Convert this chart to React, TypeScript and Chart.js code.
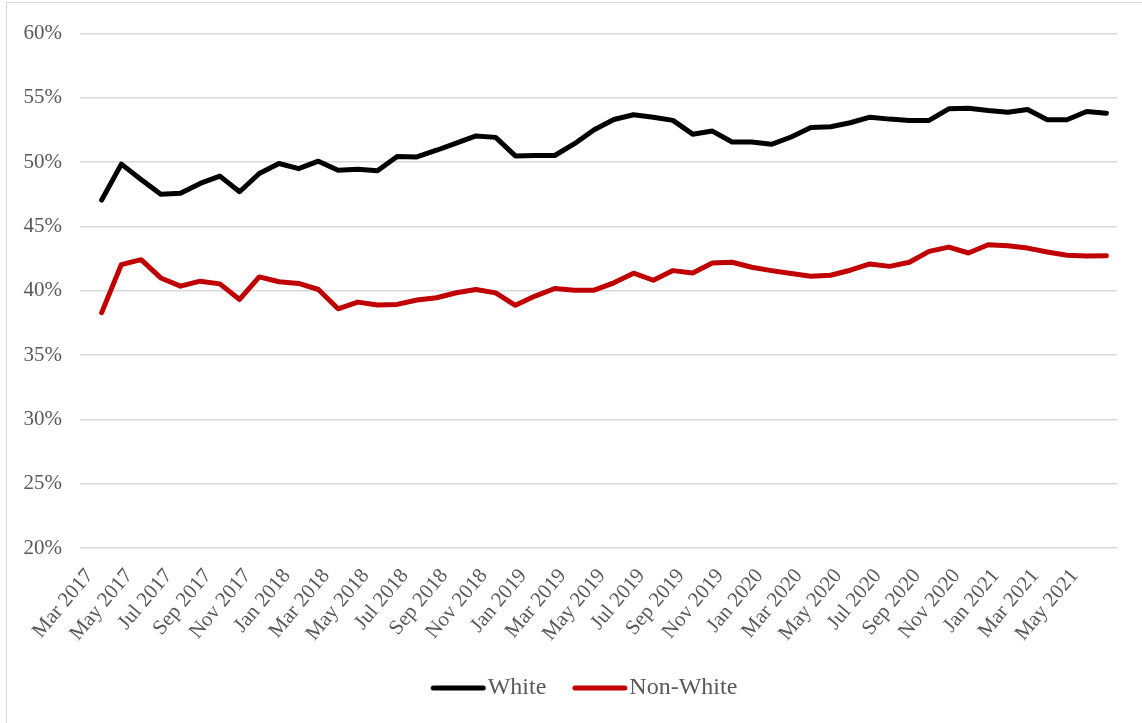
import React, { useEffect, useRef } from "react";
import { Chart, registerables } from "chart.js";

Chart.register(...registerables);

const months: string[] = [
  "Mar 2017", "Apr 2017", "May 2017", "Jun 2017", "Jul 2017", "Aug 2017", "Sep 2017", "Oct 2017", "Nov 2017", "Dec 2017",
  "Jan 2018", "Feb 2018", "Mar 2018", "Apr 2018", "May 2018", "Jun 2018", "Jul 2018", "Aug 2018", "Sep 2018", "Oct 2018", "Nov 2018", "Dec 2018",
  "Jan 2019", "Feb 2019", "Mar 2019", "Apr 2019", "May 2019", "Jun 2019", "Jul 2019", "Aug 2019", "Sep 2019", "Oct 2019", "Nov 2019", "Dec 2019",
  "Jan 2020", "Feb 2020", "Mar 2020", "Apr 2020", "May 2020", "Jun 2020", "Jul 2020", "Aug 2020", "Sep 2020", "Oct 2020", "Nov 2020", "Dec 2020",
  "Jan 2021", "Feb 2021", "Mar 2021", "Apr 2021", "May 2021", "Jun 2021",
];

const white: number[] = [
  47.06, 49.85, 48.66, 47.5, 47.58, 48.35, 48.92, 47.7, 49.12, 49.9,
  49.5, 50.08, 49.38, 49.46, 49.33, 50.44, 50.41, 50.93, 51.49, 52.04,
  51.93, 50.49, 50.52, 50.52, 51.44, 52.53, 53.32, 53.69, 53.5, 53.25,
  52.18, 52.42, 51.57, 51.57, 51.39, 51.96, 52.7, 52.76, 53.07, 53.5,
  53.35, 53.25, 53.25, 54.15, 54.2, 54.02, 53.89, 54.1, 53.3, 53.3,
  53.94, 53.81,
];

const nonWhite: number[] = [
  38.3, 42.04, 42.42, 41.0, 40.36, 40.75, 40.54, 39.33, 41.08, 40.7,
  40.57, 40.1, 38.6, 39.12, 38.9, 38.94, 39.28, 39.46, 39.85, 40.1,
  39.84, 38.87, 39.59, 40.18, 40.05, 40.05, 40.62, 41.37, 40.82, 41.57,
  41.39, 42.16, 42.22, 41.83, 41.57, 41.34, 41.13, 41.21, 41.6, 42.09,
  41.9, 42.22, 43.07, 43.4, 42.94, 43.58, 43.5, 43.32, 43.02, 42.76,
  42.71, 42.73,
];

const yTicks: number[] = [20, 25, 30, 35, 40, 45, 50, 55, 60];

const FONT = "'Liberation Serif', 'Times New Roman', serif";
const TEXT = "#595959";

function legendLine(color: string): HTMLCanvasElement {
  const c = document.createElement("canvas");
  c.width = 70;
  c.height = 10;
  const ctx = c.getContext("2d")!;
  ctx.strokeStyle = color;
  ctx.lineWidth = 5;
  ctx.lineCap = "round";
  ctx.beginPath();
  ctx.moveTo(15, 5);
  ctx.lineTo(65, 5);
  ctx.stroke();
  return c;
}

export default function App() {
  const ref = useRef<HTMLCanvasElement | null>(null);

  useEffect(() => {
    if (!ref.current) return;
    const labelIdx = months.map((_, i) => i).filter((i) => i % 2 === 0);
    const chart = new Chart(ref.current, {
      type: "line",
      data: {
        datasets: [
          {
            label: "White",
            data: white.map((v, i) => ({ x: i, y: v })),
            borderColor: "#000000",
            backgroundColor: "#000000",
            borderWidth: 5,
            pointRadius: 0,
            tension: 0,
            borderCapStyle: "round",
            borderJoinStyle: "round",
            pointStyle: legendLine("#000000"),
          },
          {
            label: "Non-White",
            data: nonWhite.map((v, i) => ({ x: i, y: v })),
            borderColor: "#C00000",
            backgroundColor: "#C00000",
            borderWidth: 5,
            pointRadius: 0,
            tension: 0,
            borderCapStyle: "round",
            borderJoinStyle: "round",
            pointStyle: legendLine("#C00000"),
          },
        ],
      },
      options: {
        animation: false,
        responsive: true,
        maintainAspectRatio: false,
        layout: { padding: { top: 30, right: 0, bottom: 23, left: 0 } },
        plugins: {
          title: { display: false },
          tooltip: { enabled: false },
          legend: {
            position: "bottom",
            labels: {
              usePointStyle: true,
              pointStyleWidth: 45,
              boxHeight: 5,
              padding: 26,
              color: TEXT,
              font: { family: FONT, size: 24 },
            },
          },
        },
        scales: {
          x: {
            type: "linear",
            min: -1.1,
            max: 51.54,
            grid: { display: false },
            border: { display: false },
            afterBuildTicks: (scale: any) => {
              scale.ticks = labelIdx.map((v) => ({ value: v }));
            },
            afterFit: (scale: any) => {
              scale.height = 102;
            },
            ticks: {
              autoSkip: false,
              maxRotation: 50,
              minRotation: 50,
              padding: 8,
              labelOffset: -12,
              color: TEXT,
              font: { family: FONT, size: 21 },
              callback: (v: any) => months[Math.round(Number(v))] ?? "",
            },
          },
          y: {
            min: 20,
            max: 60,
            afterBuildTicks: (scale: any) => {
              scale.ticks = yTicks.map((v) => ({ value: v }));
            },
            afterFit: (scale: any) => {
              scale.width = 73;
            },
            grid: { color: "#d9d9d9", lineWidth: 1.5, drawTicks: false },
            border: { display: false },
            ticks: {
              padding: 18,
              color: TEXT,
              font: { family: FONT, size: 21 },
              callback: (v: any) => v + "%",
            },
          },
          yRight: {
            position: "right",
            min: 0,
            max: 1,
            grid: { display: false },
            border: { display: false },
            ticks: { display: false },
            afterFit: (scale: any) => {
              scale.width = 44;
            },
          },
        },
      },
    } as any);
    return () => chart.destroy();
  }, []);

  return (
    <div style={{ position: "fixed", left: 0, top: 0, width: 1142, height: 723, overflow: "hidden", background: "#ffffff" }}>
      <div
        style={{
          position: "absolute",
          left: 6,
          top: 2,
          width: 1160,
          height: 745,
          border: "1.5px solid #d9d9d9",
          boxSizing: "border-box",
        }}
      />
      <div style={{ position: "absolute", left: 7, top: 3, width: 1154, height: 730 }}>
        <canvas ref={ref} />
      </div>
    </div>
  );
}
